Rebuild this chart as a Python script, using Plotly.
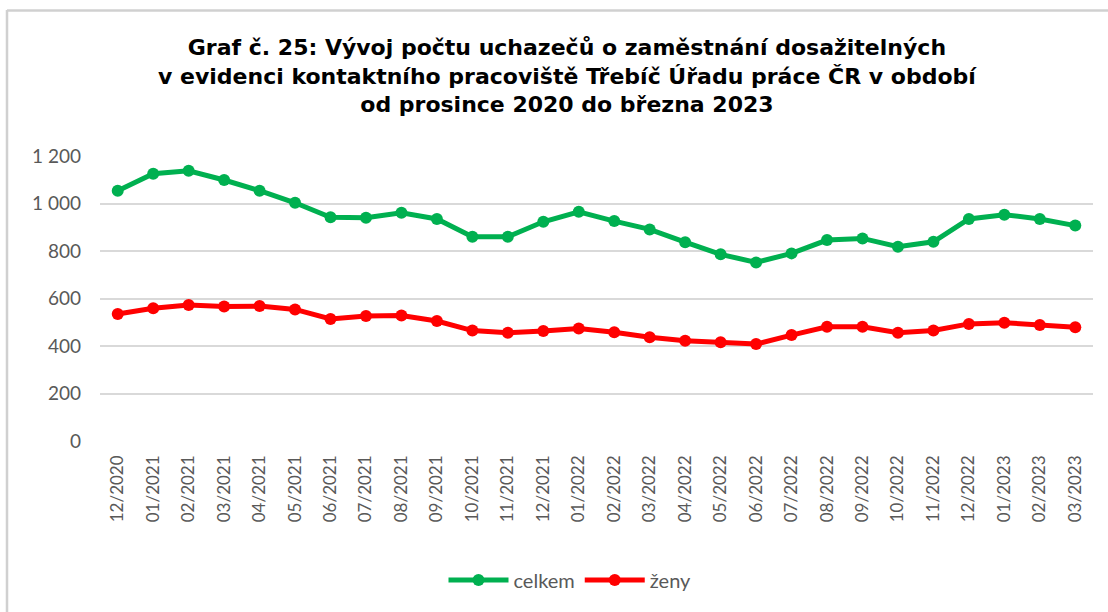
import plotly.graph_objects as go

months = ["12/2020", "01/2021", "02/2021", "03/2021", "04/2021", "05/2021", "06/2021",
          "07/2021", "08/2021", "09/2021", "10/2021", "11/2021", "12/2021", "01/2022",
          "02/2022", "03/2022", "04/2022", "05/2022", "06/2022", "07/2022", "08/2022",
          "09/2022", "10/2022", "11/2022", "12/2022", "01/2023", "02/2023", "03/2023"]
celkem = [1054, 1125, 1138, 1099, 1054, 1003, 942, 940, 961, 935, 860, 860, 923, 965,
          926, 891, 837, 786, 752, 790, 846, 853, 818, 839, 935, 953, 935, 907]
zeny = [535, 559, 573, 566, 568, 554, 514, 526, 528, 505, 465, 456, 463, 474,
        458, 437, 422, 416, 408, 446, 481, 481, 456, 465, 493, 498, 488, 479]
y_ticks = [0, 200, 400, 600, 800, 1000, 1200]
y_tick_text = ["0", "200", "400", "600", "800", "1\u00a0000", "1\u00a0200"]

title = ("<b>Graf č. 25: Vývoj počtu uchazečů o zaměstnání dosažitelných<br>"
         "v evidenci kontaktního pracoviště Třebíč Úřadu práce ČR v období<br>"
         "od prosince 2020 do března 2023</b>")

fig = go.Figure()
fig.add_trace(go.Scatter(x=months, y=celkem, name="celkem", mode="lines+markers",
                         line=dict(color="#00B050", width=5),
                         marker=dict(color="#00B050", size=12), cliponaxis=False))
fig.add_trace(go.Scatter(x=months, y=zeny, name="ženy", mode="lines+markers",
                         line=dict(color="#FF0000", width=5),
                         marker=dict(color="#FF0000", size=12), cliponaxis=False))

W, H = 1108, 612
L, R, T, B = 100, 1093, 156, 441

def px(x):
    return (x - L) / (R - L)

def py(y):
    return (B - y) / (B - T)

fig.update_layout(
    width=W, height=H,
    margin=dict(l=L, r=W - R, t=T, b=H - B, autoexpand=False),
    paper_bgcolor="white", plot_bgcolor="white",
    font=dict(family="Lato, Calibri, sans-serif", color="#595959", size=16),
    showlegend=True,
    legend=dict(orientation="h", x=px(570), xanchor="center", y=py(580), yanchor="middle",
                font=dict(size=20, color="#595959"), itemwidth=60),
    xaxis=dict(type="category", range=[-0.5, len(months) - 0.5], tickangle=-90,
               showgrid=False, showline=False, ticks="",
               tickfont=dict(size=17, color="#595959"), ticklabelstandoff=10),
    yaxis=dict(range=[0, 1200], tickvals=y_ticks, ticktext=y_tick_text,
               showgrid=True, gridcolor="#D9D9D9", gridwidth=1.5, zeroline=False,
               showline=False, ticks="", tickfont=dict(size=19, color="#595959"),
               ticklabelstandoff=18),
    annotations=[dict(text=title, x=px(567), y=py(76), xref="paper", yref="paper",
                      xanchor="center", yanchor="middle", showarrow=False, align="center",
                      font=dict(family="DejaVu Sans, Arial, sans-serif", size=22,
                                color="#000000"))],
    shapes=[
        dict(type="line", xref="paper", yref="paper", x0=px(7), x1=px(7),
             y0=py(10), y1=py(640), line=dict(color="#D0D0D0", width=2.5), layer="above"),
        dict(type="line", xref="paper", yref="paper", x0=px(7), x1=px(1108),
             y0=py(10.5), y1=py(10.5), line=dict(color="#D0D0D0", width=2.5), layer="above"),
    ],
)

fig.write_html("out.html", config={"displayModeBar": False},
               post_script="document.body.style.margin='0';document.body.style.padding='0';")
